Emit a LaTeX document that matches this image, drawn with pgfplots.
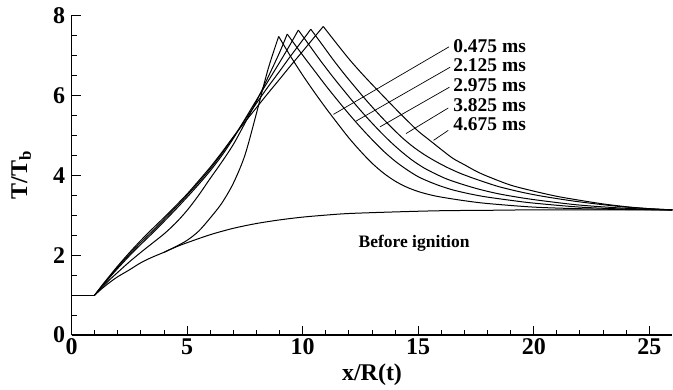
\documentclass[border=0pt]{standalone}
\usepackage{fontspec}
\setmainfont{Liberation Serif}
\usepackage{pgfplots}
\pgfplotsset{compat=1.18}
\begin{document}
\begin{tikzpicture}
\begin{axis}[
  name=ax,
  at={(0,0)}, anchor=south west,
  scale only axis,
  width=601.3pt, height=320pt,
  xmin=0, xmax=26, ymin=0, ymax=8,
  axis lines=left,
  axis line style={-, line width=1.2pt},
  tick align=inside,
  xtick={0,5,10,15,20,25},
  ytick={0,2,4,6,8},
  minor x tick num=4,
  minor y tick num=3,
  major tick length=9pt,
  minor tick length=5pt,
  tick style={line width=1pt, black},
  /pgf/number format/assume math mode=true,
  ticklabel style={font=\fontsize{24}{25}\selectfont\bfseries},
  yticklabel style={xshift=-3pt},
  xlabel={\textbf{x/R(t)}},
  ylabel={\textbf{T/T\textsubscript{b}}},
  label style={font=\fontsize{24}{25}\selectfont},
  xlabel style={at={(axis description cs:0.5,0)}, anchor=north, yshift=-25pt},
  ylabel style={at={(axis description cs:0,0.5)}, anchor=south, yshift=37pt},
  clip=false,
  no marks,
  every axis plot/.append style={black, line width=1pt},
]
% flat part shared by all
\addplot[black, no marks] coordinates {(0,1)(1,1)};
% Before ignition
\addplot[smooth, tension=0.5] coordinates {
(1,1)(1.25,1.13)(1.5,1.25)(1.75,1.36)(2,1.46)(2.5,1.63)(3,1.81)(3.5,1.95)(4,2.07)(4.5,2.2)(5,2.31)(6,2.51)(7,2.67)(8,2.79)(9,2.88)(10,2.95)(11,3.0)(12,3.04)(14,3.08)(16,3.11)(18,3.12)(20,3.13)(26,3.13)};
% 0.475 ms
\addplot[smooth, tension=0.5] coordinates {
(4,2.07)(4.5,2.21)(5,2.37)(5.5,2.6)(6,2.93)(6.5,3.3)(7,3.8)(7.5,4.5)(8,5.55)(8.5,6.65)(8.96,7.47)};
\addplot[smooth, tension=0.5] coordinates {
(8.96,7.47)(9.5,6.95)(10,6.5)(10.5,6.08)(11,5.68)(11.5,5.3)(12,4.93)(12.5,4.6)(13,4.3)(13.5,4.05)(14,3.85)(14.5,3.7)(15,3.59)(15.5,3.51)(16,3.45)(17,3.36)(18,3.29)(20,3.2)(22,3.16)(24,3.14)(26,3.13)};
% 2.125 ms
\addplot[smooth, tension=0.5] coordinates {
(1,1)(1.3,1.18)(1.66,1.39)(2,1.57)(2.5,1.83)(3,2.07)(3.5,2.3)(4,2.53)(4.5,2.8)(5,3.12)(5.5,3.5)(6,3.92)(6.5,4.33)(7,4.77)(7.5,5.3)(8,5.85)(8.5,6.45)(9,7.07)(9.33,7.53)};
\addplot[smooth, tension=0.5] coordinates {
(9.33,7.53)(10,7.0)(10.5,6.62)(11,6.24)(11.5,5.88)(12,5.53)(12.5,5.2)(13,4.89)(13.5,4.6)(14,4.35)(14.5,4.14)(15,3.96)(15.5,3.83)(16,3.72)(16.5,3.63)(17,3.56)(17.5,3.5)(18,3.45)(19,3.37)(20,3.3)(22,3.2)(24,3.15)(26,3.13)};
% 2.975 ms
\addplot[smooth, tension=0.5] coordinates {
(1,1)(1.3,1.21)(1.66,1.45)(2,1.67)(2.5,1.98)(3,2.27)(3.5,2.55)(4,2.84)(4.5,3.14)(5,3.45)(5.5,3.77)(6,4.11)(6.5,4.49)(7,4.92)(7.5,5.4)(8,5.88)(8.5,6.35)(9,6.82)(9.45,7.26)(9.81,7.63)};
\addplot[smooth, tension=0.5] coordinates {
(9.81,7.63)(10.25,7.28)(10.75,6.88)(11.25,6.5)(11.75,6.14)(12.25,5.79)(12.75,5.46)(13.25,5.15)(13.75,4.86)(14.25,4.6)(14.75,4.37)(15.25,4.18)(15.75,4.03)(16.25,3.9)(16.75,3.8)(17.25,3.71)(17.75,3.63)(18.5,3.53)(19.5,3.43)(20.5,3.35)(22,3.25)(24,3.17)(26,3.13)};
% 3.825 ms
\addplot[smooth, tension=0.5] coordinates {
(1,1)(1.3,1.22)(1.66,1.47)(2,1.7)(2.5,2.02)(3,2.32)(3.5,2.6)(4,2.89)(4.5,3.19)(5,3.5)(5.5,3.82)(6,4.16)(6.5,4.54)(7,4.95)(7.5,5.38)(8,5.8)(8.5,6.21)(9,6.6)(9.45,6.96)(10,7.38)(10.35,7.65)};
\addplot[smooth, tension=0.5] coordinates {
(10.35,7.65)(10.8,7.3)(11.33,6.88)(11.8,6.53)(12.3,6.18)(12.8,5.84)(13.3,5.52)(13.8,5.22)(14.3,4.94)(14.8,4.7)(15.3,4.5)(15.8,4.33)(16.3,4.18)(16.8,4.05)(17.3,3.94)(17.8,3.84)(18.5,3.71)(19.5,3.57)(20.5,3.46)(22,3.33)(24,3.2)(26,3.13)};
% 4.675 ms
\addplot[smooth, tension=0.5] coordinates {
(1,1)(1.3,1.23)(1.66,1.49)(2,1.73)(2.5,2.06)(3,2.37)(3.5,2.66)(4,2.94)(4.5,3.23)(5,3.53)(5.5,3.86)(6,4.2)(6.5,4.57)(7,4.96)(7.5,5.33)(8,5.69)(8.5,6.05)(9,6.4)(9.45,6.72)(10,7.1)(10.5,7.45)(10.89,7.72)};
\addplot[smooth, tension=0.5] coordinates {
(10.89,7.72)(11.5,7.27)(12,6.91)(12.5,6.58)(13,6.27)(13.5,5.97)(14,5.67)(14.5,5.38)(15,5.1)(15.5,4.87)(16,4.64)(16.5,4.42)(17,4.26)(17.5,4.1)(18,3.97)(19,3.75)(20,3.6)(21,3.47)(22,3.37)(23,3.28)(24,3.21)(25,3.16)(26,3.13)};
% leader lines
\addplot[line width=0.7pt] coordinates {(16.33,7.21)(11.33,5.52)};
\addplot[line width=0.7pt] coordinates {(16.38,6.70)(12.27,5.34)};
\addplot[line width=0.7pt] coordinates {(16.35,6.20)(13.35,5.21)};
\addplot[line width=0.7pt] coordinates {(16.30,5.68)(14.47,5.04)};
\addplot[line width=0.7pt] coordinates {(16.30,5.12)(15.66,4.87)};
\begin{scope}[every node/.style={anchor=west, inner sep=0pt, font=\fontsize{19.5}{20}\selectfont\bfseries}]
\node at (axis cs:16.51,7.23) {0.475 ms};
\node at (axis cs:16.51,6.74) {2.125 ms};
\node at (axis cs:16.51,6.25) {2.975 ms};
\node at (axis cs:16.51,5.76) {3.825 ms};
\node at (axis cs:16.51,5.27) {4.675 ms};
\end{scope}
\node[font=\fontsize{17.5}{18}\selectfont\bfseries, inner sep=0pt] at (axis cs:14.82,2.30) {Before ignition};
\end{axis}
\path (ax.south west) ++(-71.7pt,-54.7pt) rectangle ++(673pt,390pt);
\end{tikzpicture}
\end{document}
